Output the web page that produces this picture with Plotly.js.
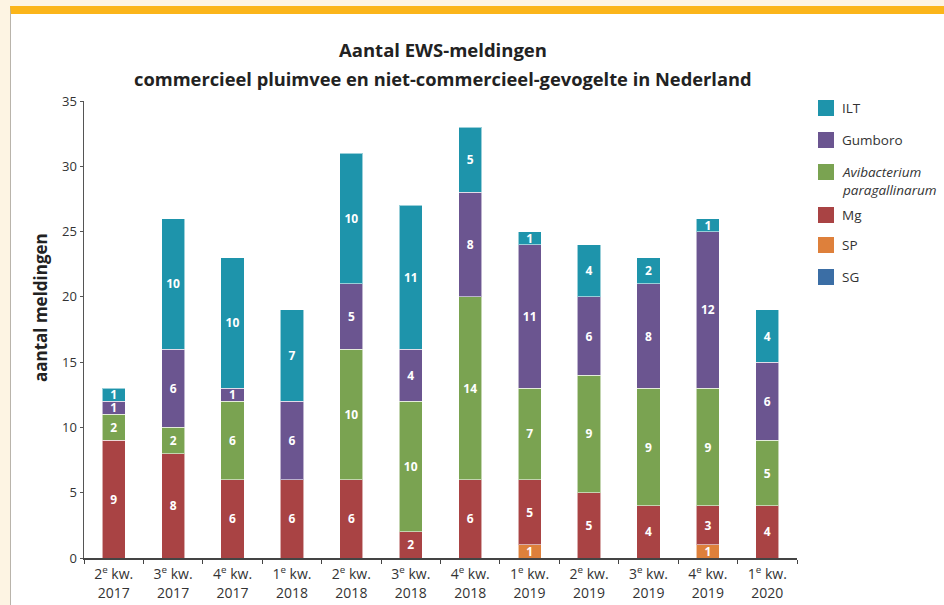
<!DOCTYPE html>
<html><head><meta charset="utf-8">
<script src="https://cdn.plot.ly/plotly-3.0.1.min.js"></script>
<style>
html,body{margin:0;padding:0;background:#fdf4e3;overflow:hidden;}
#wrap{position:absolute;left:10px;top:6px;width:934px;height:599px;box-sizing:border-box;border-top:8px solid #fbb51a;border-left:1px solid #b9b4ab;background:#fff;}
#chart{width:933px;height:591px;}
</style></head><body><div id="wrap"><div id="chart"></div></div>
<script>
const categories = [
  "2<sup>e</sup> kw.<br>2017", "3<sup>e</sup> kw.<br>2017", "4<sup>e</sup> kw.<br>2017",
  "1<sup>e</sup> kw.<br>2018", "2<sup>e</sup> kw.<br>2018", "3<sup>e</sup> kw.<br>2018", "4<sup>e</sup> kw.<br>2018",
  "1<sup>e</sup> kw.<br>2019", "2<sup>e</sup> kw.<br>2019", "3<sup>e</sup> kw.<br>2019", "4<sup>e</sup> kw.<br>2019",
  "1<sup>e</sup> kw.<br>2020"
];
const SG  = [0,0,0,0,0,0,0,0,0,0,0,0];
const SP  = [0,0,0,0,0,0,0,1,0,0,1,0];
const Mg  = [9,8,6,6,6,2,6,5,5,4,3,4];
const Avibacterium = [2,2,6,0,10,10,14,7,9,9,9,5];
const Gumboro = [1,6,1,6,5,4,8,11,6,8,12,6];
const ILT = [1,10,10,7,10,11,5,1,4,2,1,4];

const seriesNames = ["SG","SP","Mg","<i>Avibacterium<br>paragallinarum</i>","Gumboro","ILT"];
const seriesValues = [SG, SP, Mg, Avibacterium, Gumboro, ILT];
const seriesColors = ["#3b6ea5","#de803b","#a94344","#7aa351","#6b5590","#1e94ab"];

const FONT = "'Open Sans', 'Noto Sans', sans-serif";

const traces = seriesValues.map((vals, i) => ({
  type: "bar",
  name: seriesNames[i],
  showlegend: false,
  x: categories,
  y: vals,
  text: vals.map(v => v ? String(v) : ""),
  textposition: "inside",
  insidetextanchor: "middle",
  constraintext: "none",
  textangle: 0,
  textfont: {family: FONT, size: 12, color: "#ffffff", weight: "bold"},
  hoverinfo: "skip",
  marker: {color: seriesColors[i], line: {color: "rgba(255,255,255,0.55)", width: 1}}
}));

// Legend (drawn as boxes + texts, top to bottom: ILT ... SG)
// page-pixel helpers -> paper coordinates of the plot area (x 84..797, y 558..101)
const px = p => (p - 84) / 713;
const py = p => (558 - p) / 457;
const legendCenters = [277, 245, 215, 181, 140, 108]; // same order as seriesNames
const legendShapes = [], legendTexts = [];
seriesNames.forEach((nm, i) => {
  const cy = legendCenters[i];
  const boxCy = (i === 3) ? 172 : cy;
  legendShapes.push({
    type: "rect", xref: "paper", yref: "paper",
    x0: px(818), x1: px(834), y0: py(boxCy + 8), y1: py(boxCy - 8),
    fillcolor: seriesColors[i], line: {width: 0}
  });
  legendTexts.push({
    text: nm, showarrow: false, xref: "paper", yref: "paper",
    x: px(840), y: py(cy), xanchor: "left", yanchor: "middle", align: "left",
    font: {family: FONT, size: 13.5, color: "#333333"}
  });
});

const layout = {
  width: 933, height: 591,
  barmode: "stack",
  bargap: 0.61,
  showlegend: false,
  paper_bgcolor: "#ffffff",
  plot_bgcolor: "#ffffff",
  margin: {l: 73, r: 147, t: 87, b: 47, pad: 0, autoexpand: false},
  font: {family: FONT, color: "#333333"},
  title: {
    text: "Aantal EWS-meldingen",
    font: {family: FONT, size: 18.5, color: "#222222", weight: "bold"},
    xref: "container", x: 0.463, xanchor: "center",
    yref: "container", y: 0.939, yanchor: "middle"
  },
  xaxis: {
    type: "category",
    range: [-0.5, 11.5],
    showline: true, linecolor: "#444444", linewidth: 1.5,
    ticks: "outside", tickson: "boundaries", ticklen: 4, tickcolor: "#444444", tickwidth: 1,
    ticklabelstandoff: 3,
    tickfont: {family: FONT, size: 14, color: "#333333"},
    showgrid: false, zeroline: false, fixedrange: true
  },
  yaxis: {
    range: [0, 35], dtick: 5, tick0: 0,
    showline: true, linecolor: "#555555", linewidth: 1.5,
    ticks: "outside", ticklen: 3, tickcolor: "#555555", tickwidth: 1,
    tickfont: {family: FONT, size: 13, color: "#333333"},
    showgrid: false, zeroline: false, fixedrange: true
  },
  shapes: legendShapes,
  annotations: [{
    text: "commercieel pluimvee en niet-commercieel-gevogelte in Nederland",
    showarrow: false, xref: "paper", x: 0.5035, yref: "paper", y: 1.0503,
    xanchor: "center", yanchor: "middle",
    font: {family: FONT, size: 18.3, color: "#222222", weight: "bold"}
  }, {
    text: "aantal meldingen", textangle: -90, showarrow: false,
    xref: "paper", x: -0.0617, yref: "paper", y: 0.547,
    xanchor: "center", yanchor: "middle",
    font: {family: FONT, size: 17, color: "#222222", weight: "bold"}
  }].concat(legendTexts)
};

Plotly.newPlot("chart", traces, layout, {displayModeBar: false, staticPlot: true});
</script></body></html>
